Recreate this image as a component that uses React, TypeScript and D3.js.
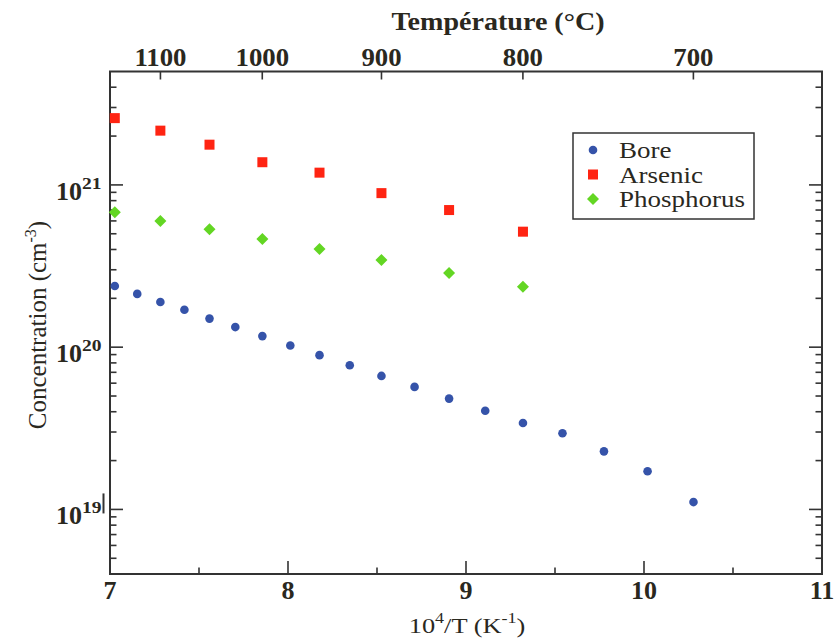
import React from "react";
import * as d3 from "d3";

const boreX = [7.027, 7.153, 7.283, 7.418, 7.559, 7.704, 7.856, 8.013, 8.177, 8.347, 8.525, 8.711, 8.905, 9.108, 9.320, 9.542, 9.775, 10.020, 10.278];
const boreY = [2.38e20, 2.13e20, 1.9e20, 1.7e20, 1.5e20, 1.33e20, 1.17e20, 1.025e20, 8.93e19, 7.74e19, 6.65e19, 5.69e19, 4.82e19, 4.06e19, 3.41e19, 2.95e19, 2.28e19, 1.72e19, 1.11e19];
const arsenicX = [7.027, 7.283, 7.559, 7.856, 8.177, 8.525, 8.905, 9.320];
const arsenicY = [2.58e21, 2.16e21, 1.77e21, 1.38e21, 1.19e21, 8.9e20, 7.0e20, 5.15e20];
const phosphorusX = [7.027, 7.283, 7.559, 7.856, 8.177, 8.525, 8.905, 9.320];
const phosphorusY = [6.78e20, 6.0e20, 5.33e20, 4.64e20, 4.03e20, 3.44e20, 2.86e20, 2.36e20];

const xTicks = [7, 8, 9, 10, 11];
const xMinorTicks = [7.5, 8.5, 9.5, 10.5];
const yDecades = [19, 20, 21];
const topTemps = [1100, 1000, 900, 800, 700];
const legendNames = ["Bore", "Arsenic", "Phosphorus"];

const W = 835, H = 641;
const L = 110, R = 822, T = 71.5, B = 574;
const INK = "#2a281e";
const AX = "#333";
const FONT = "Liberation Serif";
const BLUE = "#3553a9", RED = "#ff2412", GREEN = "#63d623";

function SText(props: {
  x: number; y: number; sx?: number; size: number; bold?: boolean;
  anchor?: "start" | "middle" | "end"; rotate?: number; children: React.ReactNode;
}) {
  const { x, y, sx = 1, size, bold, anchor = "start", rotate = 0, children } = props;
  return (
    <text
      transform={`translate(${x},${y}) rotate(${rotate}) scale(${sx},1)`}
      textAnchor={anchor}
      fontFamily={FONT}
      fontSize={size}
      fontWeight={bold ? "bold" : "normal"}
      fill={INK}
    >
      {children}
    </text>
  );
}

export default function App() {
  const x = d3.scaleLinear().domain([7, 11]).range([L, R]);
  const y = d3.scaleLog().domain([4e18, 5e21]).range([B, T]);

  const minorY: number[] = [];
  for (let e = 18; e <= 21; e++) {
    for (let m = 2; m <= 9; m++) {
      const v = m * Math.pow(10, e);
      if (v > 4e18 && v < 5e21) minorY.push(v);
    }
  }
  const tempToX = (t: number) => 1e4 / (t + 273);

  const circle = (cx: number, cy: number, k: string) => (
    <circle key={k} cx={cx} cy={cy} r={4.3} fill={BLUE} />
  );
  const square = (cx: number, cy: number, k: string) => (
    <rect key={k} x={cx - 5} y={cy - 5} width={10} height={10} fill={RED} />
  );
  const diamond = (cx: number, cy: number, k: string) => (
    <path key={k} d={`M${cx},${cy - 6}L${cx + 6},${cy}L${cx},${cy + 6}L${cx - 6},${cy}Z`} fill={GREEN} />
  );

  return (
    <svg width={W} height={H} style={{ position: "absolute", left: 0, top: 0, background: "#fff" }}>
      <rect x={0} y={0} width={W} height={H} fill="#fff" />
      <rect x={L} y={T} width={R - L} height={B - T} fill="none" stroke={AX} strokeWidth={2} />

      {/* bottom ticks */}
      {xTicks.slice(1, -1).map((v) => (
        <line key={"bx" + v} x1={x(v)} x2={x(v)} y1={B} y2={B - 13} stroke={AX} strokeWidth={1.6} />
      ))}
      {xMinorTicks.map((v) => (
        <line key={"bm" + v} x1={x(v)} x2={x(v)} y1={B} y2={B - 6.5} stroke={AX} strokeWidth={1.6} />
      ))}
      {xTicks.map((v) => (
        <SText key={"bl" + v} x={x(v)} y={599} anchor="middle" size={26} bold sx={1.0}>
          {v}
        </SText>
      ))}
      <SText x={467} y={633} anchor="middle" size={22} sx={1.2}>
        10<tspan dy={-10} fontSize={15}>4</tspan>
        <tspan dy={10}>/T (K</tspan>
        <tspan dy={-10} fontSize={15}>-1</tspan>
        <tspan dy={10}>)</tspan>
      </SText>

      {/* top axis */}
      {topTemps.map((t) => (
        <g key={"t" + t}>
          <line x1={x(tempToX(t))} x2={x(tempToX(t))} y1={T} y2={T + 8} stroke={AX} strokeWidth={1.6} />
          <SText x={x(tempToX(t))} y={66} anchor="middle" size={26} bold sx={1.03}>
            {t}
          </SText>
        </g>
      ))}
      <SText x={498} y={30} anchor="middle" size={26} bold sx={1.08}>
        Température (°C)
      </SText>

      {/* left / right ticks */}
      {yDecades.map((e) => {
        const yy = y(Math.pow(10, e));
        return (
          <g key={"yd" + e}>
            <line x1={L} x2={L + 13} y1={yy} y2={yy} stroke={AX} strokeWidth={1.6} />
            <line x1={R} x2={R - 13} y1={yy} y2={yy} stroke={AX} strokeWidth={1.6} />
            <SText x={82} y={yy + 15} anchor="end" size={26} bold>
              10
            </SText>
            <SText x={82} y={yy + 4} size={17} bold sx={1.15}>
              {e}
            </SText>
          </g>
        );
      })}
      {minorY.map((v) => (
        <g key={"my" + v}>
          <line x1={L} x2={L + 6.5} y1={y(v)} y2={y(v)} stroke={AX} strokeWidth={1.6} />
          <line x1={R} x2={R - 6.5} y1={y(v)} y2={y(v)} stroke={AX} strokeWidth={1.6} />
        </g>
      ))}
      <line x1={103.5} x2={103.5} y1={y(1e19) - 16} y2={y(1e19) + 4} stroke={AX} strokeWidth={2} />
      <SText x={46} y={325} anchor="middle" size={25} rotate={-90}>
        Concentration (cm<tspan dy={-10} fontSize={16}>-3</tspan>
        <tspan dy={10}>)</tspan>
      </SText>

      {/* data */}
      {boreX.map((v, i) => circle(x(v), y(boreY[i]), "b" + i))}
      {arsenicX.map((v, i) => square(x(v), y(arsenicY[i]), "a" + i))}
      {phosphorusX.map((v, i) => diamond(x(v), y(phosphorusY[i]), "p" + i))}

      {/* legend */}
      <rect x={573} y={133} width={181} height={86} fill="#fff" stroke={AX} strokeWidth={1.5} />
      {legendNames.map((n, i) => {
        const cy = 150 + i * 24.5;
        return (
          <g key={"lg" + n}>
            {i === 0 ? circle(593, cy, "lc") : i === 1 ? square(593, cy, "ls") : diamond(593, cy, "ld")}
            <SText x={619} y={cy + 8} size={22.5} sx={1.2}>
              {n}
            </SText>
          </g>
        );
      })}
    </svg>
  );
}
